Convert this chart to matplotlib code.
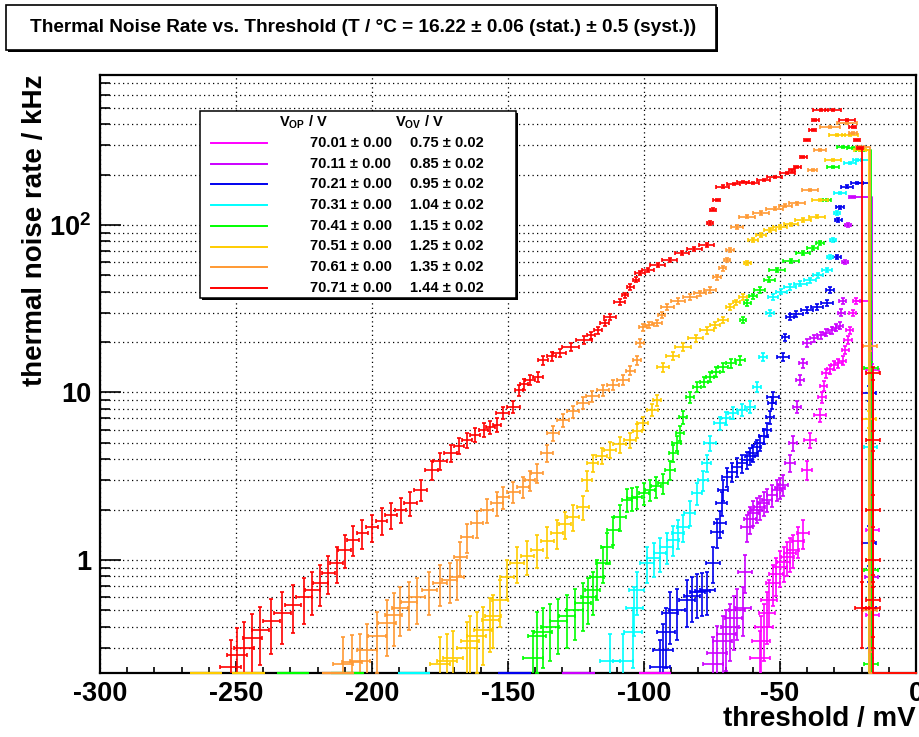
import numpy as np
import matplotlib
matplotlib.use("Agg")
import matplotlib.pyplot as plt
from matplotlib.lines import Line2D
from matplotlib.patches import Rectangle
from matplotlib.ticker import FixedLocator, FixedFormatter, NullFormatter, LogLocator, MultipleLocator

plt.rcParams['font.family'] = ['Liberation Sans', 'DejaVu Sans']
plt.rcParams['font.weight'] = 'bold'
plt.rcParams['mathtext.fontset'] = 'custom'
plt.rcParams['mathtext.rm'] = 'Liberation Sans:bold'
plt.rcParams['mathtext.it'] = 'Liberation Sans:bold'
plt.rcParams['mathtext.bf'] = 'Liberation Sans:bold'

# ---------------- data (threshold in mV, rate in kHz) ----------------
vop = [70.01, 70.11, 70.21, 70.31, 70.41, 70.51, 70.61, 70.71]
vop_err = [0.00, 0.00, 0.00, 0.00, 0.00, 0.00, 0.00, 0.00]
vov = [0.75, 0.85, 0.95, 1.04, 1.15, 1.25, 1.35, 1.44]
vov_err = [0.02, 0.02, 0.02, 0.02, 0.02, 0.02, 0.02, 0.02]

mag_x = [-57.4, -57, -55.9, -54.8, -54, -52.6, -51.3, -50, -48.7, -47.4, -46.3, -45.2, -43.3, -41.5,
         -40, -39, -35.3, -34.5, -34, -33, -31.5, -30, -28.5, -27, -26, -25, -24.3, -23.2, -22]
mag_y = [0.26, 0.33, 0.40, 0.48, 0.58, 0.73, 0.82, 0.91, 0.97, 1.04, 1.10, 1.15, 1.30, 1.45,
         3.45, 5.2, 7.3, 9.4, 11, 13, 13.8, 14.5, 15, 15.5, 18, 20.6, 23.6, 29.8, 35]
mag_tx = [-22, -16.0, -16.0, -16.0, -16.0, -16.0, 0]
mag_ty = [35, 35, 13.6, 1.5, 0.47, 0, 0]
mag_zx = [-96]

vio_x = [-74.6, -73, -71, -69.7, -68.4, -67, -65.8, -63.6, -63, -62.1, -61, -59.9, -58.6, -57.4, -56,
         -54.8, -53, -51.1, -50, -48.9, -46.3, -45.2, -43.7, -42.6, -41.5, -40, -37.5, -35, -33,
         -31, -29.5, -28, -27.5, -27, -26, -25, -23.5]
vio_y = [0.24, 0.28, 0.33, 0.36, 0.40, 0.45, 0.50, 0.52, 0.85, 1.57, 1.75, 1.91, 2.0, 2.07, 2.18,
         2.28, 2.45, 2.62, 2.7, 2.80, 3.8, 5.0, 8.2, 11.9, 15, 19.8, 21, 22, 22.8,
         23.6, 24.3, 25, 30, 35, 60, 100, 147]
vio_tx = [-23.5, -16.3, -16.3, -16.3, 0]
vio_ty = [147, 147, 0.79, 0, 0]
vio_zx = [-124]

blu_x = [-94.1, -93, -92, -90.4, -87.9, -84.2, -82.3, -80.5, -78.6, -76.8, -74.6, -73.2, -72.1, -71.5,
         -71, -69.5, -67.7, -65.8, -63.9, -62.1, -61, -59.9, -58.6, -57.4, -56, -54.8, -53.7, -52.9,
         -52.6, -48.9, -48, -46.3, -44, -40.1, -36.5, -32.7, -31.6, -29, -28.5, -27.9, -25.4, -21.7]
blu_y = [0.23, 0.29, 0.37, 0.48, 0.50, 0.58, 0.61, 0.64, 0.65, 0.66, 0.96, 1.47, 1.66, 2.19,
         2.62, 3.13, 3.35, 3.59, 3.77, 3.95, 4.15, 4.35, 4.7, 5.0, 5.5, 5.97, 7.14, 8.65,
         9.4, 16.3, 21.4, 28.2, 29.5, 31.1, 32.6, 34.2, 40.9, 64.4, 107, 128, 169, 178]
blu_tx = [-21.7, -17.2, -17.2, -17.2, -17.2, -17.2, 0]
blu_ty = [178, 178, 9.9, 1.26, 0.52, 0, 0]
blu_zx = [-147.5]

cya_x = [-112.5, -107.7, -104, -103.5, -102.6, -98.9, -96.5, -94.1, -91.7, -89.3, -87.5, -85.7, -83.1,
         -80.5, -78.3, -77, -75.7, -72.1, -70, -67.3, -64, -61, -58.5, -56.3, -53.7, -52.6, -49.5,
         -46.3, -42.5, -39, -36, -32.7, -31.6, -30.5, -29, -27.9, -24.3, -21.7]
cya_y = [0.25, 0.25, 0.37, 0.52, 0.66, 0.96, 1.03, 1.10, 1.2, 1.32, 1.45, 1.57, 1.91,
         2.51, 3.0, 3.8, 5.0, 6.58, 7.0, 7.55, 7.9, 8.19, 10.8, 16.3, 29.8, 37.2, 40,
         42.6, 44.7, 46.9, 50, 53.9, 64.4, 81.3, 118, 155, 235, 244]
cya_tx = [-21.7, -16.8, -16.8, -16.8, 0]
cya_ty = [244, 244, 4.7, 0, 0]
cya_zx = [-184.5]

grn_x = [-140.8, -139.3, -137, -134.6, -131.5, -128.3, -125.5, -122.4, -120.5, -118.8, -117.3, -115.1,
         -113.6, -111.4, -108.8, -106.3, -104.5, -102.6, -100, -97.8, -95.5, -93, -90.4, -89.3,
         -87.9, -86.8, -85.7, -83.1, -80.5, -78, -75.7, -73.5, -71, -68, -64.7, -63.6, -62.1, -60,
         -57.4, -54, -51.1, -46, -41.5, -38, -35.3, -32.7, -30.5, -26.8, -23.2, -20.6]
grn_y = [0.26, 0.35, 0.37, 0.40, 0.43, 0.46, 0.50, 0.55, 0.60, 0.66, 0.79, 0.96,
         1.2, 1.51, 1.81, 2.28, 2.33, 2.38, 2.5, 2.62, 2.75, 2.88, 3.45, 4.35,
         5.0, 5.73, 7.14, 9.4, 10.8, 11.6, 12.4, 13.3, 14.2, 14.9, 15.6, 27.1, 34.2, 37.5,
         40.9, 47, 53.9, 61, 68, 73, 78, 141, 222, 292, 288, 280]
grn_tx = [-20.6, -16.6, -16.6, -16.6, -16.6, -16.6, 0]
grn_ty = [280, 280, 14, 0.87, 0.24, 0, 0]
grn_zx = [-229, -209]

yel_x = [-175, -172.5, -170.2, -165.1, -164, -161.5, -159.2, -156.6, -155.5, -152.9, -150.4, -146.7,
         -143, -139.3, -135.5, -132, -129, -126.1, -122.4, -121, -118.8, -115.5, -112.5, -109,
         -105.1, -102.5, -100.4, -97, -95.2, -93, -89.5, -85.7, -81, -76.8, -74, -71, -68.4, -66,
         -63.6, -62.1, -60, -57, -53.7, -50, -46, -41.5, -36.4, -35.3, -30.5, -29, -24.3, -20.6]
yel_y = [0.24, 0.25, 0.26, 0.30, 0.33, 0.35, 0.38, 0.44, 0.46, 0.58, 0.79, 0.96,
         1.05, 1.15, 1.3, 1.45, 1.63, 1.81, 2.07, 3.0, 3.8, 4.2, 4.54, 4.9,
         5.2, 5.9, 6.58, 7.86, 9.0, 14.2, 16.5, 18.7, 21, 23.6, 25.3, 27.1, 32.4, 34.5,
         37.2, 59.3, 81.3, 87, 93.3, 97, 101, 107, 112, 141, 244, 344, 344, 280]
yel_tx = [-20.6, -17.3, -17.3, -17.3, 0]
yel_ty = [280, 280, 6.9, 0, 0]
yel_zx = [-261, -245.5]

org_x = [-210.7, -207.5, -204.4, -201.8, -198.2, -194.5, -192, -189.7, -186.5, -183.5, -179, -175,
         -171.5, -168.8, -167.6, -165.1, -161.4, -157.7, -154, -151.8, -148, -144.5, -142, -139.3,
         -135.7, -133.5, -129.8, -126, -122.4, -119, -115.1, -111.5, -107.7, -105, -102.6, -101.5,
         -100.4, -98, -95.2, -93.5, -91.5, -87.5, -83.1, -79.5, -75.7, -73.2, -71, -69.5, -68.4,
         -65.8, -62.1, -57, -52, -48, -43.8, -39, -38, -35.3, -31.6, -25.4, -23.2, -20.6]
org_y = [0.24, 0.245, 0.25, 0.29, 0.35, 0.42, 0.47, 0.52, 0.56, 0.60, 0.66, 0.73,
         0.76, 0.79, 1.04, 1.37, 1.66, 1.99, 2.19, 2.38, 2.55, 2.73, 3.0, 3.31,
         4.35, 5.73, 6.85, 7.7, 8.65, 9.5, 10.35, 11.1, 11.9, 13.5, 15.6, 19.8,
         24.6, 25.3, 26.0, 29, 32.4, 35, 37.2, 39, 40.9, 48.9, 55, 61.8, 70.9,
         97.3, 112, 118, 125, 130, 135, 162, 213, 280, 385, 406, 354, 292]
org_tx = [-20.6, -17.0, -17.0, -17.0, -17.0, 0]
org_ty = [292, 292, 19, 0.50, 0, 0]
org_zx = [-212.5]

red_x = [-252, -249.5, -247, -244, -241, -237, -233, -229, -225, -222, -219, -216, -213, -210, -207,
         -203.5, -200, -196.5, -193, -189.5, -186, -182, -178, -175, -171, -168, -165, -162, -159,
         -156.5, -154, -152, -148, -146, -144, -142, -139, -137, -134, -131, -127, -122, -119.5,
         -117, -114.5, -112.5, -109, -107, -105, -103, -101.5, -98.5, -95, -90.5, -86, -81.5, -77,
         -75.7, -74.6, -73.2, -71, -67, -63.6, -60, -56, -52, -47.4, -45.5, -43.7, -41.5, -40,
         -38, -37, -35, -30.5, -25.4, -23.2, -21.7, -20.5]
red_y = [0.23, 0.27, 0.30, 0.34, 0.38, 0.43, 0.48, 0.54, 0.60, 0.66, 0.73, 0.84, 0.96, 1.15, 1.32,
         1.45, 1.57, 1.72, 1.86, 2.0, 2.19, 2.62, 3.45, 3.9, 4.35, 4.8, 5.2, 5.6, 5.97,
         6.2, 6.4, 7.55, 8.19, 10.35, 11.2, 11.9, 12.4, 15.6, 16.4, 17.2, 18.8, 20.6, 22,
         23.6, 26, 28.2, 34.7, 38, 42.6, 47, 51.7, 54, 57.7, 62, 68, 72, 76,
         103, 123, 141, 169, 176, 181, 178, 186, 193, 204, 212, 222, 255, 322,
         369, 424, 486, 486, 424, 385, 322, 288]
red_tx = [-20.5, -19.9, -19.9, -15.8, -15.8, -15.8, -15.8, -15.8, -15.8, -15.8, 0]
red_ty = [288, 288, 0.52, 0.52, 13, 5.2, 2.0, 1.0, 0.58, 0, 0]
red_zx = []

# ---------------- layout helpers ----------------
W, H = 920, 737
YMIN, YMAX = 0.2114, 786.0


def fx(px):
    return px / W


def fy(py):
    return 1 - py / H


fig = plt.figure(figsize=(W / 100, H / 100), dpi=100)
ax = fig.add_axes([fx(100), fy(673), (916 - 100) / W, (673 - 75) / H])
ax.set_yscale('log')
ax.set_xlim(-300, 0)
ax.set_ylim(YMIN, YMAX)


def rel_err(y):
    y = np.asarray(y, float)
    return np.minimum(1.0 / np.sqrt(np.maximum(y, 1e-9) * 18.0), 0.45)


def errs(x, y):
    x = np.asarray(x, float)
    y = np.asarray(y, float)
    rel = rel_err(y)
    if len(x) > 1:
        d = np.diff(x)
        gl = np.concatenate([[d[0]], d])
        gr = np.concatenate([d, [d[-1]]])
        gap = 0.6 * np.maximum(gl, gr)
    else:
        gap = np.zeros_like(x)
    xerr = np.minimum(np.maximum(1.0 + 6.0 * rel, gap), 6.0)
    return y * rel, xerr


series = [
    (mag_x, mag_y, mag_tx, mag_ty, mag_zx, '#ff00ff'),
    (vio_x, vio_y, vio_tx, vio_ty, vio_zx, '#cc00ff'),
    (blu_x, blu_y, blu_tx, blu_ty, blu_zx, '#0000ee'),
    (cya_x, cya_y, cya_tx, cya_ty, cya_zx, '#00ffff'),
    (grn_x, grn_y, grn_tx, grn_ty, grn_zx, '#00ff00'),
    (yel_x, yel_y, yel_tx, yel_ty, yel_zx, '#ffcc00'),
    (org_x, org_y, org_tx, org_ty, org_zx, '#ff9933'),
    (red_x, red_y, red_tx, red_ty, red_zx, '#ff0000'),
]

eb_kw = dict(fmt='none', elinewidth=1.2, capsize=1.6, capthick=1.2, zorder=3)
for sx, sy, tx, ty, zx, col in series:
    order = np.argsort(sx, kind='stable')
    sxa = np.asarray(sx, float)[order]
    sya = np.asarray(sy, float)[order]
    yerr, xerr = errs(sxa, sya)
    ax.errorbar(sxa, sya, yerr=yerr, xerr=xerr, ecolor=col, **eb_kw)
    # tail: drop to zero rate near the trigger cut-off
    tyy = np.asarray(ty, float)
    ax.plot(tx, np.where(tyy > 0, tyy, YMIN), color=col, lw=1.3, zorder=3, clip_on=False)
    tpx = [x for x, y in zip(tx[2:], ty[2:]) if y > 0]
    tpy = [y for y in ty[2:] if y > 0]
    if tpx:
        tyerr = np.asarray(tpy) * rel_err(tpy) * 1.3
        ax.errorbar(tpx, tpy, yerr=tyerr, xerr=[2.5] * len(tpx), ecolor=col, **eb_kw)
    if zx:
        ax.errorbar(zx, [YMIN] * len(zx), xerr=[6.0] * len(zx), ecolor=col,
                    fmt='none', elinewidth=1.6, capsize=0, zorder=4, clip_on=False)

# ---------------- axes styling ----------------
ax.xaxis.set_major_locator(MultipleLocator(50))
ax.xaxis.set_minor_locator(MultipleLocator(10))
ax.yaxis.set_major_locator(FixedLocator([1, 10, 100]))
ax.yaxis.set_major_formatter(FixedFormatter(['1', '10', '$10^{2}$']))
ax.yaxis.set_minor_locator(LogLocator(base=10, subs=np.arange(2, 10)))
ax.yaxis.set_minor_formatter(NullFormatter())
ax.xaxis.set_major_formatter(plt.FuncFormatter(lambda v, p: f"{int(round(v))}"))

ax.tick_params(axis='both', which='both', direction='in', top=False, right=False,
               width=1.2, labelsize=19.5)
ax.tick_params(axis='x', which='major', length=8.5, pad=6)
ax.tick_params(axis='x', which='minor', length=4.5)
ax.tick_params(axis='y', which='major', length=15, pad=6)
ax.tick_params(axis='y', which='minor', length=7.5)
for lab in ax.get_xticklabels() + ax.get_yticklabels():
    lab.set_fontweight('bold')

dot = (0, (1, 2.6))
ax.xaxis.grid(True, which='major', color='black', linestyle=dot, linewidth=0.9)
ax.yaxis.grid(True, which='both', color='black', linestyle=dot, linewidth=0.9)
ax.set_axisbelow(True)
for s in ax.spines.values():
    s.set_linewidth(1.6)
    s.set_zorder(2.5)

fig.text(fx(916), fy(719), 'threshold / mV', ha='right', va='center', fontsize=20,
         fontweight='bold')
fig.text(fx(35), fy(75), 'thermal noise rate / kHz', ha='center', va='top', rotation=90,
         fontsize=20, fontweight='bold')

# ---------------- title box ----------------
fig.patches.append(Rectangle((fx(8), fy(52)), (718 - 8) / W, (52 - 7) / H,
                             transform=fig.transFigure, facecolor='black', edgecolor='none'))
fig.patches.append(Rectangle((fx(6), fy(50)), (716 - 6) / W, (50 - 5) / H,
                             transform=fig.transFigure, facecolor='white', edgecolor='black',
                             linewidth=1.2))
fig.text(fx(363), fy(28),
         'Thermal Noise Rate vs. Threshold (T / \u00b0C = 16.22 \u00b1 0.06 (stat.) \u00b1 0.5 (syst.))',
         ha='center', va='center', fontsize=13.7, fontweight='bold')

# ---------------- legend box ----------------
fig.patches.append(Rectangle((fx(202), fy(300)), (518 - 202) / W, (300 - 113) / H,
                             transform=fig.transFigure, facecolor='black', edgecolor='none',
                             zorder=5))
fig.patches.append(Rectangle((fx(200), fy(298)), (516 - 200) / W, (298 - 111) / H,
                             transform=fig.transFigure, facecolor='white', edgecolor='black',
                             linewidth=1.1, zorder=6))
fig.text(fx(303), fy(122), 'V$_{\\mathrm{OP}}$ / V', ha='center', va='center', fontsize=10.5,
         fontweight='bold', zorder=7)
fig.text(fx(419), fy(122), 'V$_{\\mathrm{OV}}$ / V', ha='center', va='center', fontsize=10.5,
         fontweight='bold', zorder=7)
for i, (_, _, _, _, _, col) in enumerate(series):
    yy = fy(143 + 20.7 * i)
    fig.add_artist(Line2D([fx(211), fx(267)], [yy, yy], color=col, lw=1.4, zorder=7))
    fig.text(fx(351), yy, f"{vop[i]:.2f} \u00b1 {vop_err[i]:.2f}", ha='center', va='center',
             fontsize=10.5, fontweight='bold', zorder=7)
    fig.text(fx(447), yy, f"{vov[i]:.2f} \u00b1 {vov_err[i]:.2f}", ha='center', va='center',
             fontsize=10.5, fontweight='bold', zorder=7)

fig.savefig('out.png', dpi=100)
